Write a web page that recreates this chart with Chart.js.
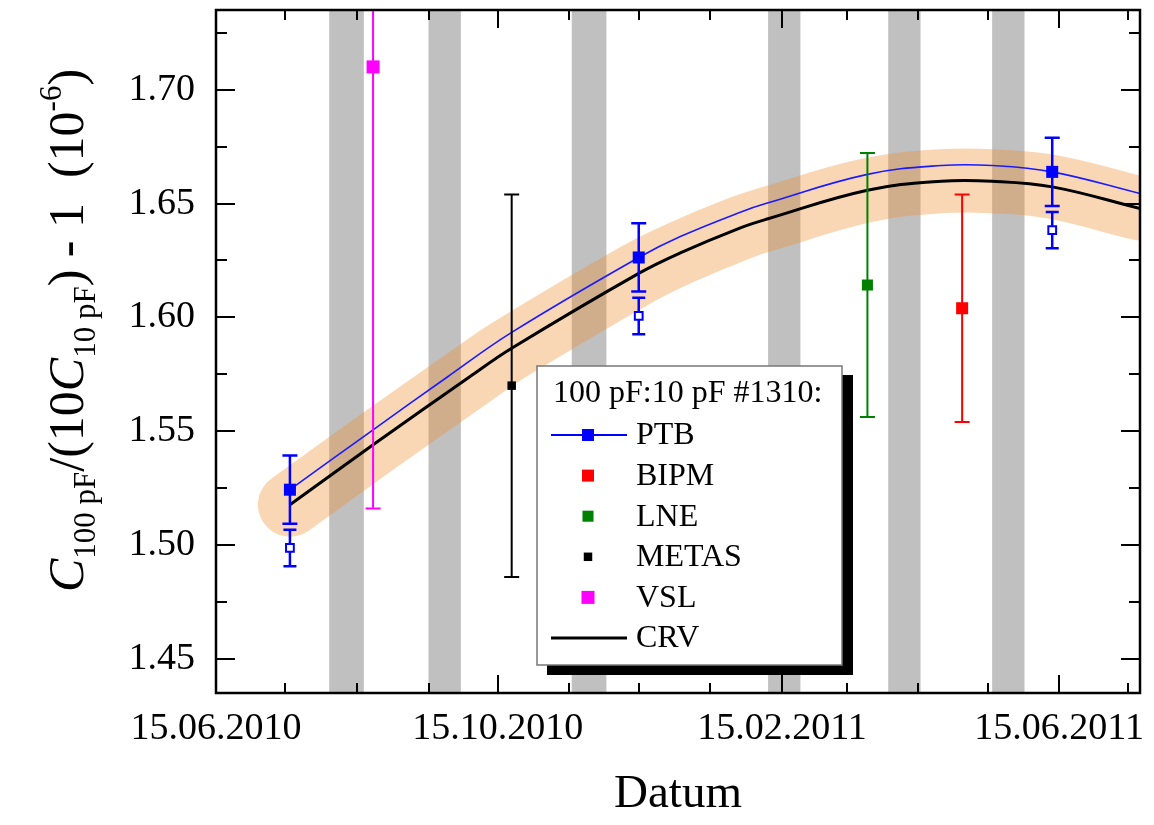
<!DOCTYPE html>
<html>
<head>
<meta charset="utf-8">
<script src="https://cdn.jsdelivr.net/npm/chart.js@4.4.0/dist/chart.umd.min.js"></script>
<style>
  html, body { margin: 0; padding: 0; background: #fff; }
  canvas { display: block; }
</style>
</head>
<body>
<canvas id="chart" width="1154" height="825"></canvas>
<script>
// ---- data (dates as DD.MM.YYYY, values in 10^-6) ----
const xTickDates = ['15.06.2010', '15.07.2010', '15.08.2010', '15.09.2010', '15.10.2010', '15.11.2010', '15.12.2010',
  '15.01.2011', '15.02.2011', '15.03.2011', '15.04.2011', '15.05.2011', '15.06.2011', '15.07.2011'];
const xLabelDates = ['15.06.2010', '15.10.2010', '15.02.2011', '15.06.2011'];
const xRange = ['15.06.2010', '20.07.2011'];
const yTicks = [1.45, 1.475, 1.50, 1.525, 1.55, 1.575, 1.60, 1.625, 1.65, 1.675, 1.70, 1.725];
const yLabels = ['1.45', '1.50', '1.55', '1.60', '1.65', '1.70'];
const yRange = [1.435, 1.735];

const ptbDates = ['17.07.2010', '15.12.2010', '12.06.2011'];
const ptbValues = [1.5243, 1.6263, 1.6639];
const ptbErrors = [0.015, 0.015, 0.015];
const ptbOpenValues = [1.4987, 1.6006, 1.6383];
const ptbOpenErrors = [0.008, 0.008, 0.008];

const bipmDates = ['04.05.2011'];
const bipmValues = [1.604];
const bipmErrors = [0.050];

const lneDates = ['24.03.2011'];
const lneValues = [1.6142];
const lneErrors = [0.058];

const metasDates = ['21.10.2010'];
const metasValues = [1.570];
const metasErrors = [0.084];

const vslDates = ['22.08.2010'];
const vslValues = [1.710];
const vslErrors = [0.194];

// PTB drift curve (blue) and CRV (black)
const ptbCurveDates = ['17.07.2010', '22.08.2010', '23.09.2010', '21.10.2010', '15.12.2010', '02.01.2011', '28.01.2011',
  '09.02.2011', '24.03.2011', '25.04.2011', '17.05.2011', '12.06.2011', '20.07.2011'];
const ptbCurveValues = [1.5243, 1.5506, 1.5737, 1.5934, 1.6263, 1.6355, 1.6462, 1.6503, 1.6628, 1.6667, 1.6667, 1.6639, 1.6544];
const crvDates = ['17.07.2010', '22.08.2010', '03.10.2010', '21.10.2010', '15.12.2010', '02.01.2011', '28.01.2011',
  '09.02.2011', '24.03.2011', '25.04.2011', '17.05.2011', '12.06.2011', '20.07.2011'];
const crvValues = [1.5177, 1.5440, 1.5740, 1.5864, 1.6193, 1.6283, 1.6393, 1.6433, 1.6558, 1.6598, 1.6598, 1.6573, 1.6478];

// grey transport periods
const shadeFrom = ['03.08.2010', '15.09.2010', '16.11.2010', '09.02.2011', '02.04.2011', '17.05.2011'];
const shadeTo = ['18.08.2010', '29.09.2010', '01.12.2010', '23.02.2011', '16.04.2011', '31.05.2011'];

const legendTitle = '100 pF:10 pF #1310:';
const legendLabels = ['PTB', 'BIPM', 'LNE', 'METAS', 'VSL', 'CRV'];

// ---- helpers ----
const SERIF = '"Liberation Serif", "Times New Roman", serif';

function toDay(s) {
  const [d, m, y] = s.split('.').map(Number);
  return (Date.UTC(y, m - 1, d) - Date.UTC(2010, 5, 15)) / 86400000;
}

function pts(dates, values) {
  return dates.map((d, i) => ({ x: toDay(d), y: values[i] }));
}

const xTickDays = xTickDates.map(toDay);
const xLabelMap = {};
xLabelDates.forEach(d => { xLabelMap[toDay(d)] = d; });

// ---- plugins ----
const shadePlugin = {
  id: 'shade',
  beforeDatasetsDraw(chart) {
    const { ctx, chartArea: a, scales: { x } } = chart;
    ctx.save();
    ctx.fillStyle = '#c0c0c0';
    shadeFrom.forEach((f, i) => {
      const x0 = x.getPixelForValue(toDay(f));
      const x1 = x.getPixelForValue(toDay(shadeTo[i]));
      ctx.fillRect(x0, a.top, x1 - x0, a.bottom - a.top);
    });
    ctx.restore();
  }
};

// error bars drawn just before each dataset's markers
const errorBarPlugin = {
  id: 'errorBars',
  beforeDatasetDraw(chart, args) {
    const ds = chart.data.datasets[args.index];
    if (!ds.errors) return;
    const { ctx, chartArea: a, scales: { x, y } } = chart;
    ctx.save();
    ctx.beginPath();
    ctx.rect(a.left, a.top, a.right - a.left, a.bottom - a.top);
    ctx.clip();
    ctx.strokeStyle = ds.errorColor;
    ctx.lineWidth = ds.errorWidth;
    ds.data.forEach((p, i) => {
      const px = x.getPixelForValue(p.x);
      const hi = y.getPixelForValue(p.y + ds.errors[i]);
      const lo = y.getPixelForValue(p.y - ds.errors[i]);
      const c = ds.errorCap / 2;
      ctx.beginPath();
      ctx.moveTo(px, hi); ctx.lineTo(px, lo);
      ctx.moveTo(px - c, hi); ctx.lineTo(px + c, hi);
      ctx.moveTo(px - c, lo); ctx.lineTo(px + c, lo);
      ctx.stroke();
    });
    ctx.restore();
  }
};

// frame with inward ticks on all four sides
const framePlugin = {
  id: 'frame',
  afterDatasetsDraw(chart) {
    const { ctx, chartArea: a, scales: { x, y } } = chart;
    ctx.save();
    ctx.strokeStyle = '#000';
    ctx.lineWidth = 2;
    ctx.beginPath();
    x.ticks.forEach(t => {
      const px = Math.round(x.getPixelForValue(t.value));
      const len = t.label ? 18 : 10;
      ctx.moveTo(px, a.bottom); ctx.lineTo(px, a.bottom - len);
      ctx.moveTo(px, a.top); ctx.lineTo(px, a.top + len);
    });
    y.ticks.forEach(t => {
      const py = Math.round(y.getPixelForValue(t.value));
      const len = t.label ? 19 : 11;
      ctx.moveTo(a.left, py); ctx.lineTo(a.left + len, py);
      ctx.moveTo(a.right, py); ctx.lineTo(a.right - len, py);
    });
    ctx.stroke();
    ctx.lineWidth = 2.5;
    ctx.strokeRect(a.left, a.top, a.right - a.left, a.bottom - a.top);
    ctx.restore();
  }
};

const legendPlugin = {
  id: 'boxLegend',
  afterDraw(chart) {
    const ctx = chart.ctx;
    const left = 537, top = 366, w = 305, h = 299;
    ctx.save();
    ctx.fillStyle = '#000';
    ctx.fillRect(left + 10, top + 9, w + 1, h + 1);
    ctx.fillStyle = '#fff';
    ctx.fillRect(left, top, w, h);
    ctx.strokeStyle = '#777';
    ctx.lineWidth = 1.5;
    ctx.strokeRect(left, top, w, h);

    ctx.fillStyle = '#000';
    ctx.font = '32px ' + SERIF;
    ctx.textBaseline = 'middle';
    ctx.textAlign = 'left';
    ctx.fillText(legendTitle, 553, 394);

    legendLabels.forEach((lab, i) => {
      const cy = 435 + i * 40.6;
      const ds = chart.data.datasets.find(d => d.label === lab);
      if (ds.legendLine) {
        ctx.strokeStyle = ds.legendLine;
        ctx.lineWidth = ds.legendLineWidth;
        ctx.beginPath();
        ctx.moveTo(551, cy); ctx.lineTo(627, cy);
        ctx.stroke();
      }
      if (ds.pointRadius > 0) {
        ctx.fillStyle = ds.pointBackgroundColor;
        ctx.strokeStyle = ds.pointBorderColor;
        Chart.helpers.drawPoint(ctx, { pointStyle: 'rect', radius: ds.pointRadius, borderWidth: 0, rotation: 0 }, 588, cy);
      }
      ctx.fillStyle = '#000';
      ctx.fillText(lab, 636, cy + 1);
    });
    ctx.restore();
  }
};

// y title with italic C, subscripts and superscript
const yTitleParts = [
  { t: 'C', it: true }, { t: '100 pF', sub: true }, { t: '/(10' }, { t: 'C', it: true },
  { t: '10 pF', sub: true }, { t: ') - 1  (10' }, { t: '-6', sup: true }, { t: ')' }
];
const yTitlePlugin = {
  id: 'yTitle',
  afterDraw(chart) {
    const ctx = chart.ctx;
    const fontFor = p => (p.it ? 'italic ' : '') + ((p.sub || p.sup) ? '31px ' : '50px ') + SERIF;
    ctx.save();
    let total = 0;
    yTitleParts.forEach(p => { ctx.font = fontFor(p); p.w = ctx.measureText(p.t).width; total += p.w; });
    const cy = (chart.chartArea.top + chart.chartArea.bottom) / 2 - 21;
    ctx.translate(83, cy);
    ctx.rotate(-Math.PI / 2);
    ctx.fillStyle = '#000';
    ctx.textBaseline = 'alphabetic';
    ctx.textAlign = 'left';
    let xPos = -total / 2;
    yTitleParts.forEach(p => {
      ctx.font = fontFor(p);
      ctx.fillText(p.t, xPos, p.sub ? 12 : (p.sup ? -22 : 0));
      xPos += p.w;
    });
    ctx.restore();
  }
};

// ---- chart ----
const ctx = document.getElementById('chart').getContext('2d');

new Chart(ctx, {
  type: 'scatter',
  data: {
    datasets: [
      {
        label: 'VSL', data: pts(vslDates, vslValues), order: 1,
        pointStyle: 'rect', pointRadius: 9.2, pointBackgroundColor: '#ff00ff', pointBorderColor: '#ff00ff', pointBorderWidth: 0,
        errors: vslErrors, errorColor: '#ff00ff', errorWidth: 2, errorCap: 15
      },
      {
        label: 'BIPM', data: pts(bipmDates, bipmValues), order: 2,
        pointStyle: 'rect', pointRadius: 8.5, pointBackgroundColor: '#ff0000', pointBorderColor: '#ff0000', pointBorderWidth: 0,
        errors: bipmErrors, errorColor: '#ff0000', errorWidth: 2, errorCap: 15
      },
      {
        label: 'LNE', data: pts(lneDates, lneValues), order: 3,
        pointStyle: 'rect', pointRadius: 7.8, pointBackgroundColor: '#008000', pointBorderColor: '#008000', pointBorderWidth: 0,
        errors: lneErrors, errorColor: '#008000', errorWidth: 2, errorCap: 15
      },
      {
        label: 'METAS', data: pts(metasDates, metasValues), order: 4,
        pointStyle: 'rect', pointRadius: 6.0, pointBackgroundColor: '#000', pointBorderColor: '#000', pointBorderWidth: 0,
        errors: metasErrors, errorColor: '#000', errorWidth: 2, errorCap: 15
      },
      {
        label: 'PTB', data: pts(ptbDates, ptbValues), order: 5,
        pointStyle: 'rect', pointRadius: 8.5, pointBackgroundColor: '#0000ff', pointBorderColor: '#0000ff', pointBorderWidth: 0,
        errors: ptbErrors, errorColor: '#0000ff', errorWidth: 2.5, errorCap: 15,
        legendLine: '#0000ff', legendLineWidth: 2
      },
      {
        label: 'PTB open', data: pts(ptbDates, ptbOpenValues), order: 6,
        pointStyle: 'rect', pointRadius: 5.5, pointBackgroundColor: '#fff', pointBorderColor: '#0000ff', pointBorderWidth: 2,
        errors: ptbOpenErrors, errorColor: '#0000ff', errorWidth: 2.5, errorCap: 13
      },
      {
        label: 'PTB curve', data: pts(ptbCurveDates, ptbCurveValues), order: 7,
        showLine: true, borderColor: '#1a1aff', borderWidth: 1.6, pointRadius: 0, tension: 0.4
      },
      {
        label: 'CRV', data: pts(crvDates, crvValues), order: 8,
        showLine: true, borderColor: '#000', borderWidth: 3, pointRadius: 0, tension: 0.4,
        legendLine: '#000', legendLineWidth: 3
      },
      {
        label: 'CRV band', data: pts(crvDates, crvValues), order: 9,
        showLine: true, borderColor: 'rgba(240, 140, 40, 0.35)', borderWidth: 64, borderCapStyle: 'round',
        borderJoinStyle: 'round', pointRadius: 0, tension: 0.4
      }
    ]
  },
  options: {
    responsive: false,
    animation: false,
    devicePixelRatio: 1,
    layout: { padding: { left: 0, right: 14, top: 10, bottom: 0 } },
    plugins: {
      legend: { display: false },
      tooltip: { enabled: false }
    },
    scales: {
      x: {
        type: 'linear',
        min: toDay(xRange[0]),
        max: toDay(xRange[1]),
        afterBuildTicks: scale => { scale.ticks = xTickDays.map(v => ({ value: v })); },
        afterFit: scale => {
          scale.height = 132;
          scale.paddingLeft = 0; scale.paddingRight = 0;
        },
        grid: { display: false, drawTicks: false },
        border: { display: false },
        ticks: {
          autoSkip: false,
          maxRotation: 0,
          padding: 13,
          color: '#000',
          font: { family: SERIF, size: 38 },
          callback: v => xLabelMap[v] || ''
        },
        title: {
          display: true,
          text: 'Datum',
          color: '#000',
          font: { family: SERIF, size: 47 },
          padding: { top: 0, bottom: 2 }
        }
      },
      y: {
        type: 'linear',
        min: yRange[0],
        max: yRange[1],
        afterBuildTicks: scale => { scale.ticks = yTicks.map(v => ({ value: v })); },
        afterFit: scale => {
          scale.width = 216;
          scale.paddingTop = 0; scale.paddingBottom = 0;
        },
        grid: { display: false, drawTicks: false },
        border: { display: false },
        ticks: {
          padding: 21,
          color: '#000',
          font: { family: SERIF, size: 38 },
          callback: v => yLabels.find(l => Math.abs(parseFloat(l) - v) < 1e-6) || ''
        }
      }
    }
  },
  plugins: [shadePlugin, errorBarPlugin, framePlugin, yTitlePlugin, legendPlugin]
});
</script>
</body>
</html>
